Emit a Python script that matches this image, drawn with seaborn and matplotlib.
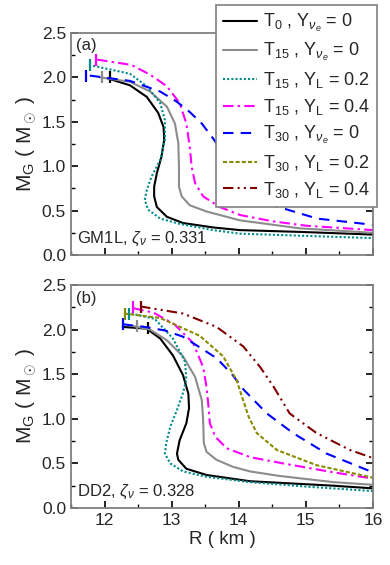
import matplotlib
matplotlib.use('Agg')
from matplotlib import pyplot as plt
from matplotlib.lines import Line2D
from matplotlib.ticker import MultipleLocator
import seaborn as sns

# ---- data (R in km, M_G in M_sun) ----
# panel (a) GM1L
a_T0_R = [12.04, 12.38, 12.63, 12.80, 12.88, 12.89, 12.85, 12.78, 12.74, 12.74, 12.78, 12.93, 13.17, 13.62, 14.02, 14.91, 16.0]
a_T0_M = [1.99, 1.91, 1.78, 1.60, 1.44, 1.30, 1.11, 0.92, 0.77, 0.66, 0.54, 0.43, 0.36, 0.31, 0.28, 0.26, 0.23]
a_T15_R = [11.93, 12.38, 12.68, 12.93, 13.05, 13.10, 13.11, 13.11, 13.15, 13.27, 13.52, 14.02, 14.91, 16.0]
a_T15_M = [2.00, 1.95, 1.84, 1.67, 1.48, 1.26, 0.99, 0.77, 0.66, 0.56, 0.49, 0.39, 0.30, 0.25]
a_T15L2_R = [11.83, 12.38, 12.63, 12.83, 12.90, 12.90, 12.83, 12.70, 12.63, 12.60, 12.65, 12.83, 13.12, 13.62, 14.02, 16.0]
a_T15L2_M = [2.13, 2.04, 1.90, 1.71, 1.52, 1.30, 1.07, 0.88, 0.73, 0.62, 0.51, 0.41, 0.35, 0.28, 0.24, 0.19]
a_T15L4_R = [11.89, 12.40, 12.68, 12.93, 13.12, 13.22, 13.27, 13.30, 13.35, 13.47, 13.72, 14.02, 14.50, 15.00, 16.0]
a_T15L4_M = [2.20, 2.14, 2.03, 1.90, 1.71, 1.48, 1.22, 0.99, 0.81, 0.66, 0.54, 0.45, 0.38, 0.33, 0.28]
a_T30_R = [11.78, 12.38, 12.83, 13.07, 13.27, 13.45, 13.62, 13.90, 14.15, 14.42, 15.17, 16.0]
a_T30_M = [2.02, 1.96, 1.84, 1.73, 1.61, 1.48, 1.31, 1.00, 0.75, 0.58, 0.41, 0.34]

# panel (b) DD2
b_T0_R = [12.27, 12.63, 12.83, 13.02, 13.17, 13.25, 13.26, 13.22, 13.12, 13.08, 13.10, 13.22, 13.52, 14.17, 15.41, 16.0]
b_T0_M = [2.03, 2.01, 1.90, 1.71, 1.49, 1.28, 1.12, 0.95, 0.76, 0.61, 0.54, 0.44, 0.37, 0.30, 0.25, 0.22]
b_T15_R = [12.43, 12.68, 12.93, 13.17, 13.35, 13.45, 13.47, 13.48, 13.52, 13.67, 13.92, 14.17, 14.60, 15.41, 16.0]
b_T15_M = [2.04, 2.00, 1.88, 1.70, 1.47, 1.21, 0.99, 0.73, 0.63, 0.54, 0.46, 0.41, 0.36, 0.29, 0.26]
b_T15L2_R = [12.40, 12.75, 13.02, 13.20, 13.22, 13.17, 13.08, 12.98, 12.92, 12.90, 12.98, 13.17, 13.52, 14.17, 15.00, 16.0]
b_T15L2_M = [2.18, 2.12, 1.90, 1.64, 1.44, 1.29, 1.10, 0.91, 0.73, 0.61, 0.50, 0.41, 0.35, 0.29, 0.24, 0.19]
b_T15L4_R = [12.43, 12.73, 13.04, 13.32, 13.47, 13.52, 13.55, 13.57, 13.65, 13.82, 14.17, 14.66, 15.41, 16.0]
b_T15L4_M = [2.24, 2.19, 2.06, 1.85, 1.58, 1.36, 1.14, 0.95, 0.80, 0.67, 0.57, 0.50, 0.40, 0.33]
b_T30_R = [12.27, 12.60, 12.90, 13.17, 13.40, 13.67, 13.90, 14.07, 14.42, 14.81, 15.31, 16.0]
b_T30_M = [2.06, 2.03, 1.99, 1.92, 1.81, 1.68, 1.50, 1.33, 1.06, 0.84, 0.61, 0.40]
b_T30L2_R = [12.29, 12.83, 13.42, 13.77, 13.97, 14.07, 14.15, 14.27, 14.57, 15.16, 16.0]
b_T30L2_M = [2.18, 2.13, 1.93, 1.70, 1.43, 1.20, 1.02, 0.84, 0.65, 0.48, 0.34]
b_T30L4_R = [12.53, 13.17, 13.67, 14.07, 14.32, 14.52, 14.76, 15.16, 15.66, 16.0]
b_T30L4_M = [2.26, 2.18, 2.03, 1.81, 1.58, 1.36, 1.06, 0.84, 0.65, 0.56]

# maximum-mass points (short vertical marks)
a_max = {'T0': (12.08, 2.00), 'T15': (11.96, 2.00), 'T15L2': (11.78, 2.14),
         'T15L4': (11.87, 2.20), 'T30': (11.73, 2.02)}
b_max = {'T0': (12.65, 2.02), 'T15': (12.49, 2.04), 'T15L2': (12.37, 2.17),
         'T15L4': (12.43, 2.25), 'T30': (12.27, 2.06), 'T30L2': (12.30, 2.17),
         'T30L4': (12.55, 2.25)}

labels = {
    'T0': r'T$_0$ , Y$_{\nu_e}$ = 0',
    'T15': r'T$_{15}$ , Y$_{\nu_e}$ = 0',
    'T15L2': r'T$_{15}$ , Y$_{\rm L}$ = 0.2',
    'T15L4': r'T$_{15}$ , Y$_{\rm L}$ = 0.4',
    'T30': r'T$_{30}$ , Y$_{\nu_e}$ = 0',
    'T30L2': r'T$_{30}$ , Y$_{\rm L}$ = 0.2',
    'T30L4': r'T$_{30}$ , Y$_{\rm L}$ = 0.4',
}
order = ['T0', 'T15', 'T15L2', 'T15L4', 'T30', 'T30L2', 'T30L4']

styles = {
    'T0': dict(color='black', linestyle='-'),
    'T15': dict(color='#8c8c8c', linestyle='-'),
    'T15L2': dict(color='#008b8b', linestyle=(0, (1, 1))),
    'T15L4': dict(color='#ff00ff', linestyle=(0, (5, 2, 1.2, 2))),
    'T30': dict(color='#0000ff', linestyle=(0, (5, 3.5))),
    'T30L2': dict(color='#8b8b00', linestyle=(0, (2, 1))),
    'T30L4': dict(color='#800000', linestyle=(0, (5, 2, 1, 2, 1, 2))),
}

panel_a = {'T0': (a_T0_R, a_T0_M), 'T15': (a_T15_R, a_T15_M),
           'T15L2': (a_T15L2_R, a_T15L2_M), 'T15L4': (a_T15L4_R, a_T15L4_M),
           'T30': (a_T30_R, a_T30_M)}
panel_b = {'T0': (b_T0_R, b_T0_M), 'T15': (b_T15_R, b_T15_M),
           'T15L2': (b_T15L2_R, b_T15L2_M), 'T15L4': (b_T15L4_R, b_T15L4_M),
           'T30': (b_T30_R, b_T30_M), 'T30L2': (b_T30L2_R, b_T30L2_M),
           'T30L4': (b_T30L4_R, b_T30L4_M)}

sns.set_style('ticks')
plt.rcParams['font.family'] = ['Liberation Sans', 'DejaVu Sans']
plt.rcParams['mathtext.fontset'] = 'custom'
plt.rcParams['mathtext.rm'] = 'Liberation Sans'
plt.rcParams['mathtext.it'] = 'Liberation Sans:italic'

fig = plt.figure(figsize=(3.9, 5.65), dpi=100)
ax_a = fig.add_axes([0.182, 0.5487, 0.774, 0.393])
ax_b = fig.add_axes([0.182, 0.1009, 0.774, 0.3947])

LW = 1.5


def draw_panel(ax, curves, maxpts, tag, note):
    for key in order:
        if key not in curves:
            continue
        r, m = curves[key]
        sns.lineplot(x=r, y=m, ax=ax, sort=False, estimator=None,
                     linewidth=LW, **styles[key])
        mr, mm = maxpts[key]
        ax.plot([mr], [mm], marker='|', markersize=9, mew=1.6,
                color=styles[key]['color'], linestyle='none')
    ax.set_xlim(11.5, 16)
    ax.set_ylim(0, 2.5)
    ax.xaxis.set_major_locator(MultipleLocator(1))
    ax.xaxis.set_minor_locator(MultipleLocator(0.5))
    ax.yaxis.set_major_locator(MultipleLocator(0.5))
    ax.yaxis.set_minor_locator(MultipleLocator(0.25))
    ax.tick_params(which='both', direction='in', left=True, right=True,
                   bottom=True, top=False, color='black', labelsize=12.5)
    ax.tick_params(which='major', length=5, width=1.2)
    ax.tick_params(which='minor', length=3, width=1.0)
    for sp in ax.spines.values():
        sp.set_visible(True)
        sp.set_color('#808080')
        sp.set_linewidth(1.3)
    ax.set_ylabel(r'M$_{\rm G}$ ( M$_\odot$ )', fontsize=15, labelpad=2)
    ax.text(0.015, 0.975, tag, transform=ax.transAxes, ha='left', va='top',
            fontsize=12)
    ax.text(0.02, 0.03, note, transform=ax.transAxes, ha='left', va='bottom',
            fontsize=12)


draw_panel(ax_a, panel_a, a_max, '(a)', r'GM1L, $\zeta_{\nu}$ = 0.331')
draw_panel(ax_b, panel_b, b_max, '(b)', r'DD2, $\zeta_{\nu}$ = 0.328')
ax_a.set_xticklabels([])
ax_a.set_xlabel('')
ax_b.set_xlabel('R ( km )', fontsize=13.5, labelpad=2)

handles = [Line2D([], [], linewidth=LW, **styles[k]) for k in order]
leg = fig.legend(handles, [labels[k] for k in order], loc='upper right',
                 bbox_to_anchor=(0.967, 0.991), fontsize=13, frameon=True,
                 fancybox=False, framealpha=1, edgecolor='#808080',
                 handlelength=1.9, handletextpad=0.3, labelspacing=0.38,
                 borderpad=0.4, borderaxespad=0)
leg.get_frame().set_linewidth(1.2)

fig.savefig('out.png', dpi=100)
